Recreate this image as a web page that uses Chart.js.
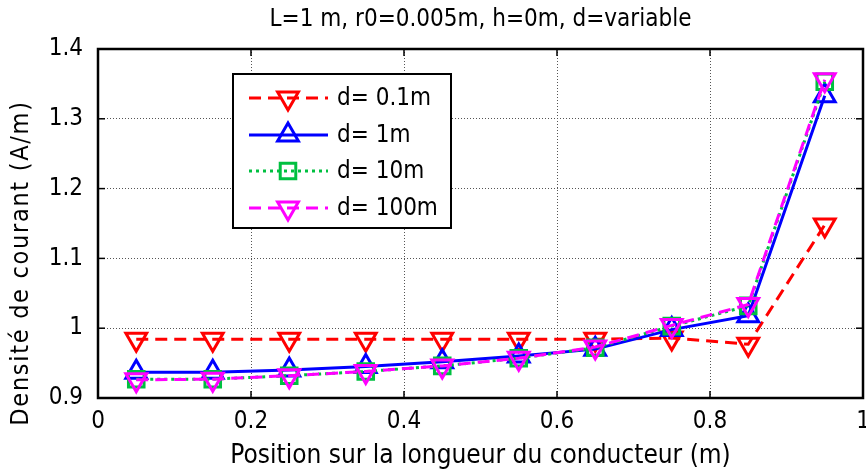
<!DOCTYPE html>
<html>
<head>
<meta charset="utf-8">
<script src="https://cdn.jsdelivr.net/npm/chart.js@4.4.0/dist/chart.umd.min.js"></script>
<style>
html,body{margin:0;padding:0;background:#fff;}
#wrap{width:866px;height:475px;}
</style>
</head>
<body>
<div id="wrap"><canvas id="c" width="866" height="475"></canvas></div>
<script>
const positions = [0.05, 0.15, 0.25, 0.35, 0.45, 0.55, 0.65, 0.75, 0.85, 0.95];
const d01  = [0.984, 0.984, 0.984, 0.984, 0.984, 0.984, 0.984, 0.986, 0.977, 1.148];
const d1   = [0.937, 0.937, 0.940, 0.945, 0.952, 0.960, 0.970, 0.998, 1.018, 1.333];
const d10  = [0.927, 0.927, 0.932, 0.938, 0.946, 0.957, 0.972, 1.003, 1.032, 1.353];
const d100 = [0.926, 0.927, 0.932, 0.938, 0.946, 0.957, 0.973, 1.004, 1.034, 1.356];
const labels = ['d= 0.1m', 'd= 1m', 'd= 10m', 'd= 100m'];
const titleText = 'L=1 m, r0=0.005m, h=0m, d=variable';
const xTitle = 'Position sur la longueur du conducteur (m)';
const yTitle = 'Densité de courant (A/m)';

const FONT = "'Liberation Sans Narrow', 'DejaVu Sans Condensed', 'Liberation Sans', Arial, sans-serif";

function pts(arr){ return positions.map((x,i)=>({x:x, y:arr[i]})); }

const series = [
  {label: labels[0], data: pts(d01), color:'#ff0000', dash:[12,7], style:'triangle', rot:180, order:3},
  {label: labels[1], data: pts(d1), color:'#0000ff', dash:[], style:'triangle', rot:0, order:2},
  {label: labels[2], data: pts(d10), color:'#00c040', dash:[3,4], style:'rect', rot:0, order:1},
  {label: labels[3], data: pts(d100), color:'#ff00ff', dash:[12,7], style:'triangle', rot:180, order:0}
];

const datasets = series.map(s=>({
  label: s.label,
  data: s.data,
  borderColor: s.color,
  backgroundColor: 'rgba(0,0,0,0)',
  borderWidth: 3,
  borderDash: s.dash,
  pointStyle: s.style,
  pointRotation: s.rot,
  pointRadius: s.style==='rect' ? 11 : 12,
  pointBorderColor: s.color,
  pointBackgroundColor: 'rgba(0,0,0,0)',
  pointBorderWidth: 3,
  tension: 0,
  order: s.order
}));

function fmt(v){ return String(Math.round(v*10)/10); }

const framePlugin = {
  id: 'frame',
  afterDraw(chart){
    const ctx = chart.ctx, a = chart.chartArea;
    const xs = chart.scales.x, ys = chart.scales.y;
    ctx.save();
    // inward tick marks
    ctx.strokeStyle = '#000'; ctx.lineWidth = 1.5; ctx.setLineDash([]);
    xs.ticks.forEach(t=>{
      const px = xs.getPixelForValue(t.value);
      ctx.beginPath(); ctx.moveTo(px, a.bottom); ctx.lineTo(px, a.bottom-7); ctx.stroke();
      ctx.beginPath(); ctx.moveTo(px, a.top); ctx.lineTo(px, a.top+7); ctx.stroke();
    });
    ys.ticks.forEach(t=>{
      const py = ys.getPixelForValue(t.value);
      ctx.beginPath(); ctx.moveTo(a.left, py); ctx.lineTo(a.left+7, py); ctx.stroke();
      ctx.beginPath(); ctx.moveTo(a.right, py); ctx.lineTo(a.right-7, py); ctx.stroke();
    });
    ctx.lineWidth = 2.5;
    ctx.strokeRect(a.left, a.top, a.right-a.left, a.bottom-a.top);
    // title
    ctx.fillStyle = '#000';
    ctx.font = "24px " + FONT;
    ctx.textAlign = 'center'; ctx.textBaseline = 'middle';
    ctx.fillText(titleText, (a.left+a.right)/2, 20);
    // y axis title
    ctx.save();
    ctx.translate(21, 263);
    ctx.rotate(-Math.PI/2);
    ctx.font = "25px " + FONT;
    if ('letterSpacing' in ctx) ctx.letterSpacing = '1.7px';
    ctx.fillText(yTitle, 0, 0);
    ctx.restore();
    // legend
    const bx = 233, by = 74, bw = 218, bh = 154;
    ctx.fillStyle = '#fff';
    ctx.fillRect(bx, by, bw, bh);
    ctx.lineWidth = 2; ctx.strokeStyle = '#000';
    ctx.strokeRect(bx, by, bw, bh);
    const rows = [98, 135, 171, 208];
    chart.data.datasets.forEach((ds,i)=>{
      const y = rows[i];
      ctx.strokeStyle = ds.borderColor;
      ctx.lineWidth = 3;
      ctx.setLineDash(ds.borderDash);
      ctx.beginPath(); ctx.moveTo(249, y); ctx.lineTo(328, y); ctx.stroke();
      ctx.setLineDash([]);
      ctx.fillStyle = 'rgba(0,0,0,0)';
      Chart.helpers.drawPoint(ctx, {pointStyle: ds.pointStyle, rotation: ds.pointRotation, radius: ds.pointRadius, borderWidth: 3}, 288, y);
      ctx.fillStyle = '#000';
      ctx.font = "24px " + FONT;
      ctx.textAlign = 'left'; ctx.textBaseline = 'middle';
      ctx.fillText(ds.label, 337, y+1);
    });
    ctx.restore();
  }
};

new Chart(document.getElementById('c'), {
  type: 'line',
  data: { datasets: datasets },
  options: {
    responsive: false,
    animation: false,
    layout: { autoPadding: false, padding: { top: 49, right: 3, left: 0, bottom: 0 } },
    plugins: { legend: { display: false }, title: { display: false }, tooltip: { enabled: false } },
    scales: {
      x: {
        type: 'linear', min: 0, max: 1,
        ticks: { stepSize: 0.2, color: '#000', font: { size: 24, family: FONT }, padding: 9, maxRotation: 0, callback: fmt },
        grid: { color: '#555', lineWidth: 1, drawTicks: false },
        border: { display: false, dash: [1, 2] },
        title: { display: true, text: xTitle, color: '#000', font: { size: 26, family: FONT }, padding: { top: 0, bottom: 3 } },
        afterFit(scale){ scale.height = 77; scale.paddingRight = 0; scale.paddingLeft = 0; }
      },
      y: {
        min: 0.9, max: 1.4,
        ticks: { stepSize: 0.1, color: '#000', font: { size: 24, family: FONT }, padding: 15, callback: fmt },
        grid: { color: '#555', lineWidth: 1, drawTicks: false },
        border: { display: false, dash: [1, 2] },
        title: { display: false, text: yTitle },
        afterFit(scale){ scale.width = 98; scale.paddingTop = 0; scale.paddingBottom = 0; }
      }
    }
  },
  plugins: [framePlugin]
});
</script>
</body>
</html>
